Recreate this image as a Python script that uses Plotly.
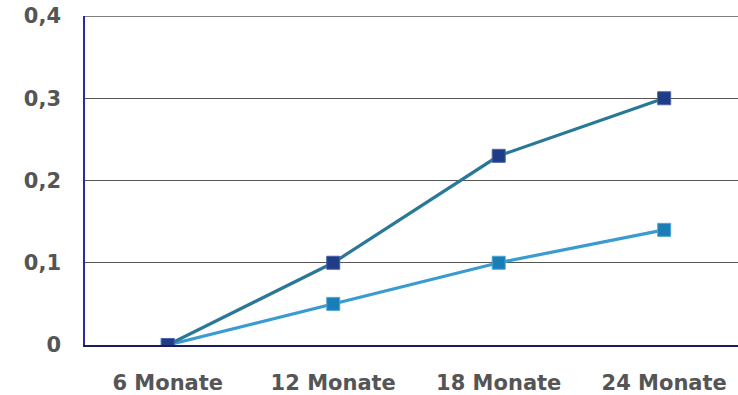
import plotly.graph_objects as go

categories = ["6 Monate", "12 Monate", "18 Monate", "24 Monate"]
series_a = [0, 0.1, 0.23, 0.3]
series_b = [0, 0.05, 0.1, 0.14]
y_ticks = [0, 0.1, 0.2, 0.3, 0.4]
y_tick_labels = ["0", "0,1", "0,2", "0,3", "0,4"]

label_font = dict(family="DejaVu Sans, sans-serif", size=21, weight="bold", color="#555555")

fig = go.Figure()
fig.add_trace(go.Scatter(
    x=categories, y=series_b, mode="lines+markers",
    line=dict(color="#3A9BD0", width=3.2),
    marker=dict(symbol="square", size=13, color="#1A7DB6",
                line=dict(color="#4FA6D6", width=1)),
    showlegend=False,
))
fig.add_trace(go.Scatter(
    x=categories, y=series_a, mode="lines+markers",
    line=dict(color="#2A7898", width=3.2),
    marker=dict(symbol="square", size=13, color="#1F3C86",
                line=dict(color="#4A62A8", width=1)),
    showlegend=False,
))

# top border gridline at the highest tick
fig.add_shape(type="line", xref="paper", yref="y", x0=0, x1=1,
              y0=y_ticks[-1], y1=y_ticks[-1],
              line=dict(color="#555555", width=1.5), layer="below")

fig.update_layout(
    width=738, height=395,
    margin=dict(l=85, r=0, t=16, b=50),
    plot_bgcolor="white", paper_bgcolor="white",
    font=dict(family="DejaVu Sans, sans-serif", color="#555555"),
    xaxis=dict(
        type="category", range=[-0.5, 3.446], automargin=False,
        showgrid=False, showline=True, linecolor="#1C1C5A", linewidth=1.5,
        ticks="", tickfont=label_font,
        ticklabelstandoff=18,
    ),
    yaxis=dict(
        range=[0, 0.4], tickvals=y_ticks, ticktext=y_tick_labels,
        automargin=False,
        showgrid=True, gridcolor="#555555", gridwidth=1,
        showline=True, linecolor="#2A2A9A", linewidth=1.5,
        zeroline=False, ticks="",
        tickfont=label_font,
        ticklabelstandoff=18,
    ),
)

fig.write_html("out.html")
